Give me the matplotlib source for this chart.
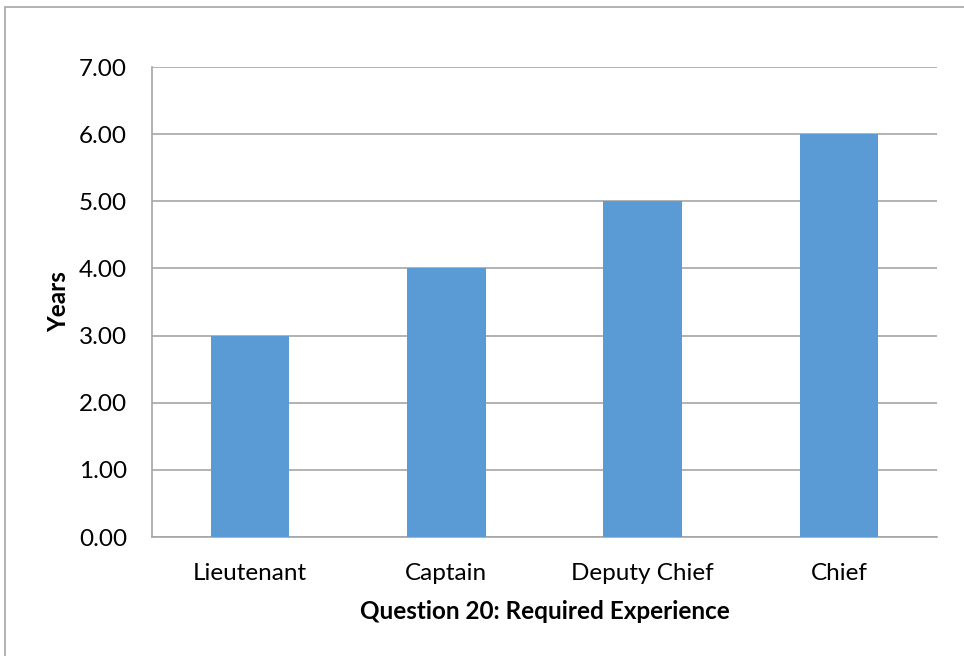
import matplotlib
matplotlib.use("Agg")
import matplotlib.pyplot as plt
from matplotlib.patches import Rectangle

ranks = ["Lieutenant", "Captain", "Deputy Chief", "Chief"]
years = [3.0, 4.0, 5.0, 6.0]
yticks = [0, 1, 2, 3, 4, 5, 6, 7]

plt.rcParams['font.family'] = ['Lato', 'DejaVu Sans']

fig = plt.figure(figsize=(9.64, 6.56), dpi=100)
# outer chart border (top/left visible, rest cropped)
fig.patches.append(Rectangle((5 / 964, -0.1), 1.2, (656 - 7) / 656 + 0.1,
                             transform=fig.transFigure, fill=False,
                             edgecolor='#a6a6a6', linewidth=1.2))

ax = fig.add_axes([152 / 964, (656 - 537) / 656, (937 - 152) / 964, (537 - 67) / 656])
x = range(len(ranks))
ax.bar(x, years, width=0.4, color='#5b9bd5', zorder=3)

ax.set_xlim(-0.5, len(ranks) - 0.5)
ax.set_ylim(0, 7)
ax.set_yticks(yticks)
ax.set_yticklabels([f"{v:.2f}" for v in yticks], fontsize=17.5)
ax.set_xticks(list(x))
ax.set_xticklabels(ranks, fontsize=17.5)
ax.tick_params(axis='y', length=0, pad=18)
ax.tick_params(axis='x', length=0, pad=19)
ax.grid(axis='y', color='#a6a6a6', linewidth=1.2, zorder=0)

for s in ['top', 'right']:
    ax.spines[s].set_visible(False)
for s in ['left', 'bottom']:
    ax.spines[s].set_color('#a6a6a6')
    ax.spines[s].set_linewidth(1.2)

ax.set_ylabel("Years", fontsize=17.5, fontweight='bold', labelpad=6)
ax.set_xlabel("Question 20: Required Experience", fontsize=17.5, fontweight='bold', labelpad=11)

fig.savefig("out.png", dpi=100)
